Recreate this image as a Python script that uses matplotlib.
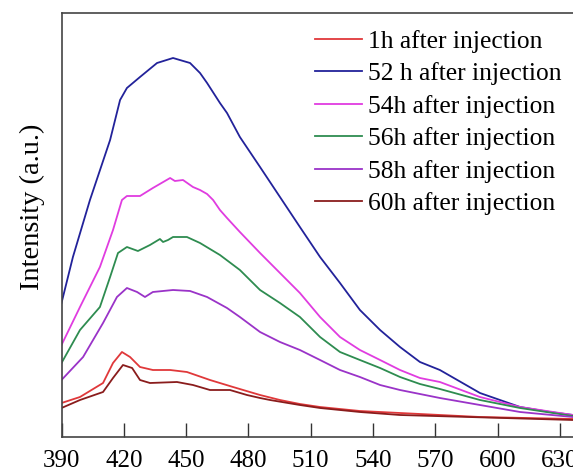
import matplotlib.pyplot as plt

plt.rcParams["font.family"] = ["Liberation Serif", "DejaVu Serif"]

# wavelength (nm) / intensity (a.u.)
wl_1h = [390, 398.9, 410, 414.8, 419.1, 423, 427.8, 434, 442.3, 450.4, 461.5, 472.6,
         485.6, 495.2, 504.8, 514.5, 524.1, 533.7, 543.4, 553, 591.5, 636.3]
int_1h = [85, 100, 135, 185, 212.5, 200, 175, 167.5, 167.5, 162.5, 142.5, 125,
          105, 92.5, 82.5, 75, 70, 65, 62.5, 60, 50, 45]

wl_52h = [390, 395.5, 403.7, 413.4, 418.2, 421.5, 427.8, 436, 443.7, 451.9, 456.7, 460.1,
          466.3, 469.7, 475.9, 485.6, 495.2, 504.8, 514.5, 524.1, 533.7, 543.4, 553,
          562.6, 572.2, 591.5, 610.8, 625.2, 636.3]
int_52h = [335, 450, 592.5, 742.5, 842.5, 872.5, 900, 935, 947.5, 935, 910, 885,
           835, 810, 750, 675, 600, 525, 450, 385, 317.5, 267.5, 225,
           187.5, 167.5, 110, 75, 62.5, 55]

wl_54h = [390, 398.9, 408.5, 414.8, 419.1, 421.5, 427.8, 434, 442.3, 444.6, 448.5, 453.3,
          456.7, 460.1, 463, 466.3, 469.7, 475.9, 485.6, 495.2, 504.8, 514.5, 524.1,
          533.7, 543.4, 553, 562.6, 572.2, 591.5, 610.8, 636.3]
int_54h = [230, 325, 425, 517.5, 592.5, 602.5, 602.5, 622.5, 647.5, 640, 642.5, 625,
           617.5, 607.5, 592.5, 567.5, 547.5, 512.5, 460, 410, 360, 300, 250,
           217.5, 192.5, 167.5, 147.5, 137.5, 100, 75, 55]

wl_56h = [390, 398.9, 408.5, 413.4, 417.2, 421.5, 426.8, 432.6, 437.4, 438.9, 441.3, 443.7,
          450.4, 456.7, 466.3, 475.9, 485.6, 495.2, 504.8, 514.5, 524.1, 533.7, 543.4,
          553, 562.6, 572.2, 591.5, 610.8, 636.3]
int_56h = [185, 267.5, 325, 400, 460, 475, 465, 480, 495, 487.5, 492.5, 500,
           500, 485, 455, 417.5, 367.5, 335, 300, 250, 212.5, 192.5, 172.5,
           150, 132.5, 120, 92.5, 72.5, 52.5]

wl_58h = [390, 400.4, 410, 416.7, 421.5, 426.4, 430.2, 434, 443.7, 451.9, 460.1, 469.7,
          475.9, 485.6, 495.2, 504.8, 514.5, 524.1, 533.7, 543.4, 553, 572.2, 591.5,
          610.8, 636.3]
int_58h = [142.5, 200, 285, 350, 372.5, 362.5, 350, 362.5, 367.5, 365, 350, 322.5,
           300, 262.5, 237.5, 217.5, 192.5, 167.5, 150, 130, 117.5, 97.5, 80,
           62.5, 50]

wl_60h = [390, 398.9, 410, 414.8, 419.6, 424, 427.8, 432.6, 445.6, 453.3, 461.5, 471.1,
          479.3, 485.6, 490.4, 504.8, 514.5, 533.7, 553, 636.3]
int_60h = [72.5, 92.5, 112.5, 147.5, 180, 172.5, 142.5, 135, 137.5, 130, 117.5, 117.5,
           105, 97.5, 92.5, 80, 72.5, 62.5, 55, 42.5]

series = [
    ("1h after injection", wl_1h, int_1h, "#e0383a"),
    ("52 h after injection", wl_52h, int_52h, "#22229a"),
    ("54h after injection", wl_54h, int_54h, "#e03ce0"),
    ("56h after injection", wl_56h, int_56h, "#2e8c50"),
    ("58h after injection", wl_58h, int_58h, "#9a33c8"),
    ("60h after injection", wl_60h, int_60h, "#8a1c1c"),
]

xticks = [390, 420, 450, 480, 510, 540, 570, 600, 630]

fig = plt.figure(figsize=(5.73, 4.73), dpi=100)
ax = fig.add_axes([61.5 / 573, 36 / 473, 1 - 61.5 / 573, 424 / 473])

for label, wl, inten, color in series:
    ax.plot(wl, inten, color=color, linewidth=1.3, label=label)

ax.set_xlim(390, 636.3)
ax.set_ylim(0, 1060)
ax.set_xticks(xticks)
ax.set_yticks([])
ax.tick_params(axis="x", direction="in", length=10, width=1, labelsize=18, pad=9,
               color="#333333")
ax.spines["right"].set_visible(False)
for s in ["left", "bottom", "top"]:
    ax.spines[s].set_color("#444444")
    ax.spines[s].set_linewidth(1.2)

ax.set_ylabel("Intensity (a.u.)", fontsize=20.5, labelpad=12, y=0.542)

ax.legend(loc="upper right", bbox_to_anchor=(0.998, 0.984), borderaxespad=0,
          frameon=False, fontsize=18.4, handlelength=1.85, handletextpad=0.25,
          labelspacing=0.37)

fig.savefig("out.png", dpi=100)
